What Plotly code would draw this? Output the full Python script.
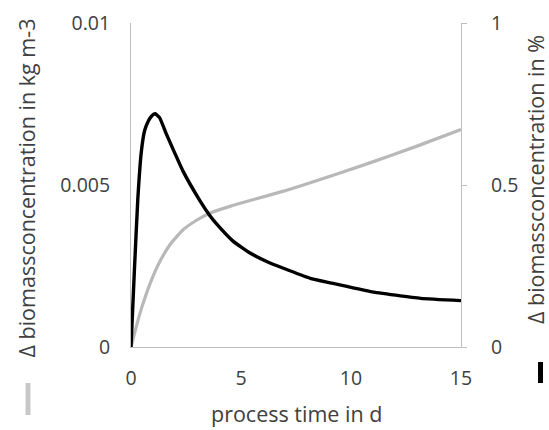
import plotly.graph_objects as go

# ---- data ----
time_abs = [0, 0.16, 0.39, 0.65, 0.92, 1.3, 1.76, 2.37, 3.0, 3.58, 4.5, 5.41,
            6.93, 8.15, 10.89, 13.0, 15]
delta_abs = [0, 0.00042, 0.00100, 0.00155, 0.00205, 0.00262, 0.00315, 0.00362,
             0.00392, 0.00413, 0.00434, 0.00452, 0.00481, 0.00507, 0.00569,
             0.00620, 0.00671]   # kg m-3 (left axis)

time_rel = [0, 0.15, 0.31, 0.47, 0.62, 0.8, 0.95, 1.1, 1.3, 1.61, 2.0, 2.37, 3.13,
            3.58, 3.89, 4.65, 5.41, 6.17, 6.93, 8.15, 9.06, 10.89, 13.17, 15]
delta_rel = [0, 0.23, 0.457, 0.603, 0.668, 0.699, 0.714, 0.720, 0.708, 0.657, 0.597,
             0.542, 0.452, 0.406, 0.38, 0.326, 0.29, 0.264, 0.243, 0.212,
             0.198, 0.171, 0.150, 0.143]  # % (right axis)

x_ticks = [0, 5, 10, 15]
y_ticks = [0, 0.005, 0.01]
y_ticklabels = ["0", "0.005", "0.01"]
y2_ticks = [0, 0.5, 1]
y2_ticklabels = ["0", "0.5", "1"]

FONT = "Open Sans"
TXT = "#404040"
AX = "#bfbfbf"
GRAY = "#b8b8b8"
BLACK = "#000000"

fig = go.Figure()
fig.add_trace(go.Scatter(x=time_abs, y=delta_abs, mode="lines",
                         line=dict(color=GRAY, width=3.2, shape="spline", smoothing=0.5),
                         yaxis="y", showlegend=False, name="Δ biomassconcentration in kg m-3"))
fig.add_trace(go.Scatter(x=time_rel, y=delta_rel, mode="lines",
                         line=dict(color=BLACK, width=3.4, shape="spline", smoothing=0.4),
                         yaxis="y2", showlegend=False, name="Δ biomassconcentration in %"))

fig.update_layout(
    width=549, height=430,
    margin=dict(l=131, r=88, t=23, b=83, autoexpand=False),
    paper_bgcolor="white", plot_bgcolor="white",
    font=dict(family=FONT, size=19.5, color=TXT),
    xaxis=dict(range=[0, 15], tickvals=x_ticks, showgrid=False, zeroline=False,
               showline=True, linecolor=AX, linewidth=1, ticks="",
               ticklabelstandoff=14, automargin=False, fixedrange=True),
    yaxis=dict(range=[0, 0.01], tickvals=y_ticks, ticktext=y_ticklabels,
               showgrid=False, zeroline=False, showline=True, linecolor=AX,
               linewidth=1, ticks="", ticklabelstandoff=16, automargin=False),
    yaxis2=dict(range=[0, 1], tickvals=y2_ticks, ticktext=y2_ticklabels,
                overlaying="y", side="right", showgrid=False, zeroline=False,
                showline=True, linecolor=AX, linewidth=1, ticks="outside",
                ticklen=5, tickcolor=AX, ticklabelstandoff=20, automargin=False),
)

# axis titles (rotated) and x title
fig.add_annotation(text="Δ biomassconcentration in kg m-3", textangle=-90,
                   xref="paper", yref="paper", x=(26 - 131) / 330, y=(347 - 188.5) / 324,
                   xanchor="center", yanchor="middle", showarrow=False,
                   font=dict(family=FONT, size=21.5, color=TXT))
fig.add_annotation(text="Δ biomassconcentration in %", textangle=-90,
                   xref="paper", yref="paper", x=(535 - 131) / 330, y=(347 - 180) / 324,
                   xanchor="center", yanchor="middle", showarrow=False,
                   font=dict(family=FONT, size=21.5, color=TXT))
fig.add_annotation(text="process time in d", xref="paper", yref="paper",
                   x=0.5, y=(347 - 413) / 324, xanchor="center", yanchor="middle",
                   showarrow=False, font=dict(family=FONT, size=21.5, color=TXT))

# legend keys drawn beside the axis titles
fig.add_shape(type="line", xref="paper", yref="paper",
              x0=(28 - 131) / 330, x1=(28 - 131) / 330,
              y0=(347 - 383) / 324, y1=(347 - 415) / 324,
              line=dict(color="#c8c8c8", width=5))
fig.add_shape(type="line", xref="paper", yref="paper",
              x0=(540.5 - 131) / 330, x1=(540.5 - 131) / 330,
              y0=(347 - 362) / 324, y1=(347 - 383) / 324,
              line=dict(color=BLACK, width=5))

fig.write_html("out.html", config={"displayModeBar": False},
               post_script="document.body.style.margin='0';document.body.style.overflow='hidden';")
